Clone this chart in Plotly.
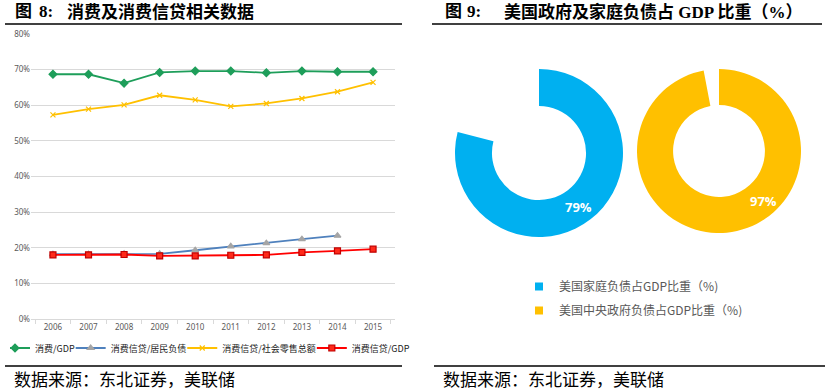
import plotly.graph_objects as go

W, H = 827, 391


def px(x):
    return x / W


def py(y):
    return (H - y) / H


# ---------------- data ----------------
years = ["2006", "2007", "2008", "2009", "2010", "2011", "2012", "2013", "2014", "2015"]
series_names = ["消费/GDP", "消费信贷/居民负债", "消费信贷/社会零售总额", "消费信贷/GDP"]
consumption_gdp = [68.7, 68.7, 66.2, 69.2, 69.6, 69.6, 69.1, 69.6, 69.4, 69.4]
credit_household = [18.2, 18.2, 18.3, 18.3, 19.3, 20.4, 21.3, 22.4, 23.4, None]
credit_retail = [57.3, 58.9, 60.1, 62.8, 61.5, 59.7, 60.5, 61.9, 63.8, 66.4]
credit_gdp = [18.0, 18.0, 18.1, 17.7, 17.7, 17.9, 18.0, 18.7, 19.1, 19.6]
y_ticks = [0, 10, 20, 30, 40, 50, 60, 70, 80]

donut_names = ["美国家庭负债占GDP比重（%)", "美国中央政府负债占GDP比重（%)"]
donut_values = [79, 97]

# ---------------- styles ----------------
CJK = "Noto Sans CJK SC"
TICK_FONT = dict(family="Noto Sans, " + CJK, size=8, color="#595959")
line_styles = [
    dict(color="#1E9E5A", symbol="diamond", mcolor="#1E9E5A", mline="#1E9E5A", size=6),
    dict(color="#4F81BD", symbol="triangle-up", mcolor="#A5A5A5", mline="#A5A5A5", size=6),
    dict(color="#FFC000", symbol="x-thin", mcolor="#FFC000", mline="#FFC000", size=5),
    dict(color="#FF0000", symbol="square", mcolor="#FF2A1A", mline="#C00000", size=6),
]
series_values = [consumption_gdp, credit_household, credit_retail, credit_gdp]
donut_colors = ["#00B0F0", "#FFC000"]
PAD = "\u00a0\u00a0\u00a0"

fig = go.Figure()

for name, vals, st in zip(series_names, series_values, line_styles):
    fig.add_trace(go.Scatter(
        x=years, y=vals, name=name + PAD, mode="lines+markers",
        line=dict(color=st["color"], width=1.8),
        marker=dict(symbol=st["symbol"], size=st["size"], color=st["mcolor"],
                    line=dict(color=st["mline"], width=1.2)),
        connectgaps=False,
        legend="legend",
    ))

# donuts
donut_domains = [
    dict(x=[px(455), px(623)], y=[py(237), py(69)]),
    dict(x=[px(637), px(801)], y=[py(233), py(69)]),
]
for name, v, c, dom in zip(donut_names, donut_values, donut_colors, donut_domains):
    fig.add_trace(go.Pie(
        values=[v, 100 - v], labels=[name, name + " 其余"],
        marker=dict(colors=[c, "rgba(0,0,0,0)"], line=dict(width=0)),
        hole=0.56, sort=False, direction="clockwise", rotation=0,
        textinfo="none", hoverinfo="skip", showlegend=False, domain=dom,
    ))

# legend entries for donuts (dummy traces on hidden axes)
for name, c in zip(donut_names, donut_colors):
    fig.add_trace(go.Scatter(
        x=[None], y=[None], mode="markers", name=name,
        marker=dict(symbol="square", size=8, color=c),
        xaxis="x2", yaxis="y2", legend="legend2", legendgroup=name,
    ))

annotations = []
# donut value labels
label_pos = [(578, 207), (763, 201)]
for v, (lx, ly) in zip(donut_values, label_pos):
    annotations.append(dict(
        x=px(lx), y=py(ly), xref="paper", yref="paper", text=f"<b>{v}%</b>",
        showarrow=False, font=dict(family="Open Sans", size=13, color="white"),
        xanchor="center", yanchor="middle"))

TITLE_FONT = dict(family="Liberation Serif, " + CJK, size=17, color="black")
titles = [
    (13, "<b>图</b>"), (37, "<b>8:</b>"), (65, "<b>消费及消费信贷相关数据</b>"),
    (443, "<b>图</b>"), (465, "<b>9:</b>"), (502, "<b>美国政府及家庭负债占 GDP 比重（%）</b>"),
]
for tx, t in titles:
    annotations.append(dict(x=px(tx), y=py(12), xref="paper", yref="paper", text=t,
                            showarrow=False, font=TITLE_FONT, xanchor="left", yanchor="middle"))

SRC_FONT = dict(family=CJK, size=17, color="black")
for sx in (12, 441):
    annotations.append(dict(x=px(sx), y=py(378), xref="paper", yref="paper",
                            text="数据来源：东北证券，美联储", showarrow=False,
                            font=SRC_FONT, xanchor="left", yanchor="middle"))

shapes = [
    dict(type="line", xref="paper", yref="paper", x0=px(5), x1=px(402), y0=py(24), y1=py(24),
         line=dict(color="black", width=1.5)),
    dict(type="line", xref="paper", yref="paper", x0=px(432), x1=px(822), y0=py(24), y1=py(24),
         line=dict(color="black", width=1.5)),
    dict(type="line", xref="paper", yref="paper", x0=px(5), x1=px(402), y0=py(366), y1=py(366),
         line=dict(color="black", width=1.5)),
    dict(type="line", xref="paper", yref="paper", x0=px(434), x1=px(825), y0=py(366), y1=py(366),
         line=dict(color="black", width=1.5)),
]

fig.update_layout(
    width=W, height=H, margin=dict(l=0, r=0, t=0, b=0, autoexpand=False),
    paper_bgcolor="white", plot_bgcolor="white",
    xaxis=dict(domain=[px(31), px(395)], type="category", tickfont=TICK_FONT,
               showgrid=False, showline=True, linecolor="#D9D9D9", linewidth=1,
               ticks="outside", tickson="boundaries", ticklen=4, tickcolor="#D9D9D9",
               anchor="y", fixedrange=True, automargin=False),
    yaxis=dict(domain=[py(319), py(34)], range=[0, 80], tickvals=y_ticks,
               ticktext=[f"{t}%" for t in y_ticks], tickfont=TICK_FONT,
               showgrid=True, gridcolor="#D9D9D9", gridwidth=1, zeroline=False,
               showline=False, ticks="", anchor="x", fixedrange=True, automargin=False),
    xaxis2=dict(visible=False, domain=[0.6, 0.7], anchor="y2"),
    yaxis2=dict(visible=False, domain=[0.0, 0.05], anchor="x2"),
    legend=dict(orientation="h", x=px(10), y=py(348), xanchor="left", yanchor="middle",
                font=dict(family=CJK, size=9, color="#222222"), indentation=-15,
                bgcolor="rgba(0,0,0,0)", itemclick=False),
    legend2=dict(orientation="v", x=px(534), y=py(272), xanchor="left", yanchor="top",
                 font=dict(family=CJK, size=12, color="#595959"), tracegroupgap=5,
                 traceorder="grouped", bgcolor="rgba(0,0,0,0)", indentation=-15),
    annotations=annotations, shapes=shapes,
)

fig.write_html("out.html", config={"displayModeBar": False},
               post_script="document.body.style.margin='0';")
